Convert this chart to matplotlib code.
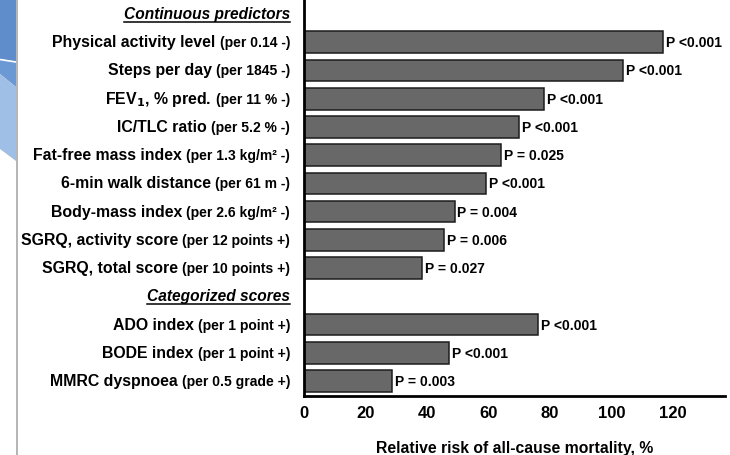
import matplotlib
matplotlib.use("Agg")
import matplotlib.pyplot as plt
from matplotlib.patches import Polygon
from matplotlib.lines import Line2D
from matplotlib import transforms as mtransforms

plt.rcParams['font.family'] = ['Liberation Sans', 'DejaVu Sans']

# ---- data -------------------------------------------------------------
continuous_names = [
    "Physical activity level", "Steps per day", "FEV$_\\mathbf{1}$, % pred.",
    "IC/TLC ratio", "Fat-free mass index", "6-min walk distance",
    "Body-mass index", "SGRQ, activity score", "SGRQ, total score",
]
continuous_units = [
    "(per 0.14 -)", "(per 1845 -)", "(per 11 % -)", "(per 5.2 % -)",
    "(per 1.3 kg/m² -)", "(per 61 m -)", "(per 2.6 kg/m² -)",
    "(per 12 points +)", "(per 10 points +)",
]
continuous_values = [116.8, 103.8, 78.2, 70.0, 64.2, 59.3, 49.0, 45.5, 38.4]
continuous_p = ["P <0.001", "P <0.001", "P <0.001", "P <0.001", "P = 0.025",
                "P <0.001", "P = 0.004", "P = 0.006", "P = 0.027"]

categorized_names = ["ADO index", "BODE index", "MMRC dyspnoea"]
categorized_units = ["(per 1 point +)", "(per 1 point +)", "(per 0.5 grade +)"]
categorized_values = [76.3, 47.2, 28.6]
categorized_p = ["P <0.001", "P <0.001", "P = 0.003"]

group_titles = ["Continuous predictors", "Categorized scores"]
x_ticks = [0, 20, 40, 60, 80, 100, 120]
x_label = "Relative risk of all-cause mortality, %"

# ---- row layout: a header row before each group -----------------------
rows = []  # (kind, payload, row index)
r = 0
for title, names, units, vals, ps in [
    (group_titles[0], continuous_names, continuous_units, continuous_values, continuous_p),
    (group_titles[1], categorized_names, categorized_units, categorized_values, categorized_p),
]:
    rows.append(("header", title, r))
    r += 1
    for n, u, v, p in zip(names, units, vals, ps):
        rows.append(("bar", (n, u, v, p), r))
        r += 1
n_rows = r

W, H = 730, 456
fig = plt.figure(figsize=(W / 100, H / 100), dpi=100)
fig.patch.set_facecolor("white")

# slide decoration on the left edge
def px(x, y):
    return (x / W, 1 - y / H)

deco = [
    ([(0, 0), (16, 0), (16, 63), (0, 60)], "#5f8dcc"),
    ([(0, 60), (16, 63), (16, 88), (0, 75)], "#6b99d3"),
    ([(0, 75), (16, 88), (16, 162), (0, 150)], "#9fbfe6"),
]
for pts, col in deco:
    fig.patches.append(Polygon([px(*p) for p in pts], closed=True,
                               transform=fig.transFigure, facecolor=col,
                               edgecolor="none", zorder=0))
fig.lines.append(Line2D([0 / W, 16 / W], [1 - 60.5 / H, 1 - 63 / H],
                        transform=fig.transFigure, color="white", lw=1.2))
fig.lines.append(Line2D([16.5 / W, 16.5 / W], [0, 1], transform=fig.transFigure,
                        color="#a8a8a8", lw=1.2))

ax_left, ax_right = 304 / W, 725 / W
ax_top, ax_bottom = 1.0, 1 - 396.7 / H
ax = fig.add_axes([ax_left, ax_bottom, ax_right - ax_left, ax_top - ax_bottom])
ax.set_xlim(0, 137)
ax.set_ylim(n_rows - 1 + 0.52, -0.53)

bar_rows = [rr for k, _, rr in rows if k == "bar"]
bar_vals = [p[2] for k, p, _ in rows if k == "bar"]
ax.barh(bar_rows, bar_vals, height=0.77, color="#686868",
        edgecolor="#1c1c1c", linewidth=1.1, zorder=2)

for k, p, rr in rows:
    if k == "bar":
        ax.annotate(p[3], xy=(p[2], rr), xytext=(2, 0), textcoords="offset points",
                    ha="left", va="center", fontsize=10, fontweight="bold")

for s in ["top", "right"]:
    ax.spines[s].set_visible(False)
for s in ["left", "bottom"]:
    ax.spines[s].set_linewidth(2.0)
    ax.spines[s].set_color("black")
ax.set_yticks([])
ax.set_xticks(x_ticks)
ax.set_xticklabels([str(t) for t in x_ticks], fontsize=12, fontweight="bold")
ax.tick_params(axis="x", length=0, pad=7)
ax.set_xlabel(x_label, fontsize=11.3, fontweight="bold", labelpad=14)

# row labels: bold name followed by a smaller bold unit, right-aligned
label_x = 290 / W
trans = mtransforms.blended_transform_factory(fig.transFigure, ax.transData)
fig.canvas.draw()
renderer = fig.canvas.get_renderer()
for k, p, rr in rows:
    base = mtransforms.offset_copy(trans, fig=fig, x=0, y=-4, units="dots")
    if k == "bar":
        unit = fig.text(label_x, rr, p[1], transform=base, ha="right",
                        va="baseline", fontsize=10, fontweight="bold")
        bb = unit.get_window_extent(renderer)
        fig.text(bb.x0 / W - 4 / W, rr, p[0], transform=base, ha="right",
                 va="baseline", fontsize=11.4, fontweight="bold")
    else:
        t = fig.text(label_x, rr, p, transform=base, ha="right", va="baseline",
                     fontsize=11.2, fontweight="bold", fontstyle="italic")
        bb = t.get_window_extent(renderer)
        yline = (bb.y0 - 1) / H
        fig.lines.append(Line2D([bb.x0 / W, bb.x1 / W], [yline, yline],
                                transform=fig.transFigure, color="black", lw=1.1))

fig.savefig("out.png", dpi=100, facecolor="white")
